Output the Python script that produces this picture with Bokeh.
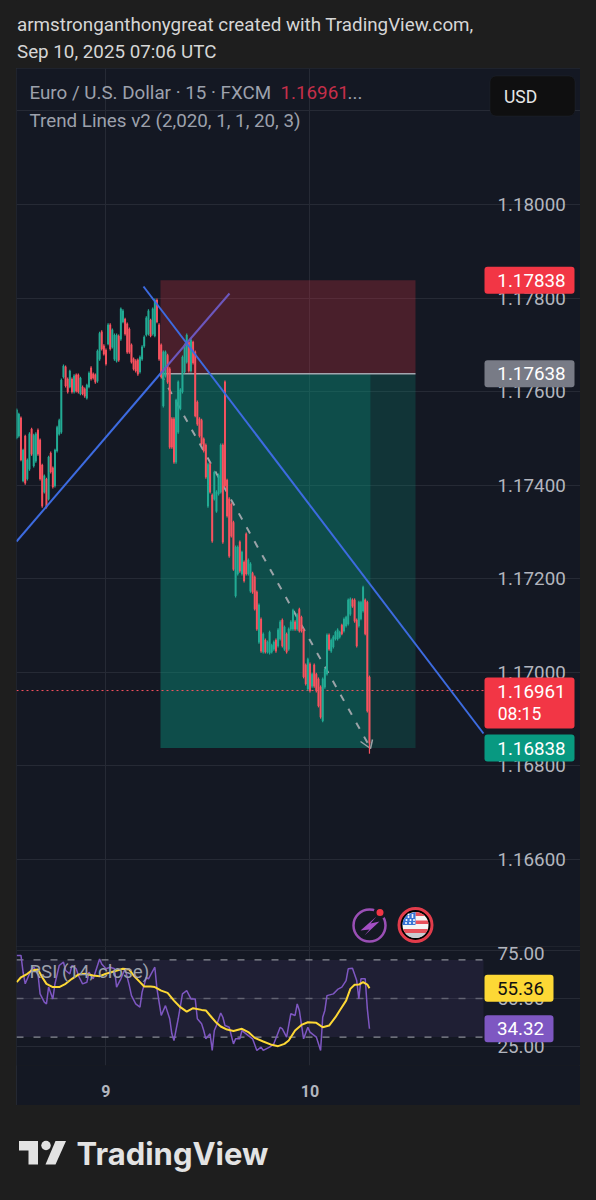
import numpy as np
from bokeh.plotting import figure
from bokeh.layouts import column
from bokeh.embed import file_html
from bokeh.resources import INLINE
from bokeh.models import (Range1d, FixedTicker, NumeralTickFormatter, Label, BoxAnnotation)

# ---- data ----
highs = [1.17564,1.17555,1.17547,1.17478,1.17508,1.17457,1.17513,1.17523,1.17510,1.17513,1.17521,1.17500,1.17446,1.17423,1.17416,1.17463,1.17472,1.17440,1.17478,1.17527,1.17542,1.17628,1.17658,1.17656,1.17630,1.17647,1.17630,1.17637,1.17639,1.17639,1.17632,1.17613,1.17609,1.17617,1.17643,1.17654,1.17641,1.17639,1.17690,1.17728,1.17731,1.17701,1.17692,1.17746,1.17746,1.17735,1.17724,1.17724,1.17722,1.17780,1.17776,1.17758,1.17748,1.17737,1.17703,1.17673,1.17669,1.17671,1.17677,1.17699,1.17720,1.17761,1.17776,1.17756,1.17780,1.17799,1.17799,1.17746,1.17703,1.17688,1.17688,1.17681,1.17652,1.17545,1.17545,1.17585,1.17624,1.17607,1.17677,1.17703,1.17724,1.17709,1.17714,1.17709,1.17688,1.17581,1.17545,1.17542,1.17502,1.17489,1.17448,1.17448,1.17382,1.17431,1.17389,1.17425,1.17489,1.17489,1.17624,1.17414,1.17374,1.17363,1.17324,1.17271,1.17271,1.17282,1.17260,1.17239,1.17299,1.17243,1.17235,1.17215,1.17207,1.17175,1.17147,1.17117,1.17085,1.17072,1.17068,1.17089,1.17061,1.17068,1.17072,1.17094,1.17111,1.17115,1.17100,1.17085,1.17096,1.17111,1.17136,1.17111,1.17126,1.17138,1.17121,1.17094,1.17019,1.17031,1.17021,1.16999,1.17019,1.16999,1.16989,1.16972,1.16989,1.17010,1.17083,1.17083,1.17072,1.17079,1.17089,1.17094,1.17089,1.17104,1.17117,1.17121,1.17158,1.17160,1.17158,1.17158,1.17115,1.17153,1.17153,1.17185,1.17158,1.17153,1.16993]
lows = [1.17498,1.17502,1.17451,1.17406,1.17401,1.17410,1.17431,1.17463,1.17438,1.17448,1.17463,1.17410,1.17352,1.17382,1.17350,1.17367,1.17425,1.17393,1.17395,1.17470,1.17506,1.17510,1.17628,1.17609,1.17596,1.17607,1.17596,1.17596,1.17598,1.17596,1.17592,1.17592,1.17587,1.17583,1.17607,1.17624,1.17626,1.17617,1.17619,1.17666,1.17688,1.17677,1.17656,1.17699,1.17688,1.17692,1.17666,1.17662,1.17664,1.17709,1.17746,1.17720,1.17681,1.17681,1.17660,1.17645,1.17641,1.17634,1.17639,1.17666,1.17694,1.17718,1.17720,1.17716,1.17720,1.17716,1.17746,1.17666,1.17628,1.17566,1.17630,1.17617,1.17478,1.17478,1.17446,1.17446,1.17510,1.17560,1.17596,1.17639,1.17660,1.17641,1.17641,1.17658,1.17545,1.17527,1.17502,1.17485,1.17470,1.17414,1.17352,1.17382,1.17277,1.17367,1.17341,1.17378,1.17382,1.17275,1.17395,1.17331,1.17245,1.17288,1.17217,1.17160,1.17207,1.17213,1.17207,1.17192,1.17207,1.17207,1.17170,1.17168,1.17132,1.17089,1.17061,1.17042,1.17040,1.17040,1.17040,1.17038,1.17040,1.17046,1.17042,1.17053,1.17068,1.17053,1.17046,1.17040,1.17046,1.17089,1.17089,1.17089,1.17089,1.17085,1.17085,1.16987,1.16972,1.16961,1.16957,1.16967,1.16967,1.16957,1.16925,1.16901,1.16893,1.16965,1.16993,1.17046,1.17042,1.17051,1.17068,1.17068,1.17072,1.17079,1.17085,1.17096,1.17100,1.17121,1.17138,1.17106,1.17053,1.17096,1.17111,1.17128,1.17079,1.16914,1.16826]
opens = [1.17501,1.17505,1.17544,1.17409,1.17505,1.17413,1.17434,1.17520,1.17441,1.17451,1.17518,1.17497,1.17443,1.17385,1.17413,1.17370,1.17469,1.17437,1.17398,1.17473,1.17509,1.17513,1.17631,1.17653,1.17627,1.17610,1.17627,1.17599,1.17636,1.17636,1.17595,1.17610,1.17606,1.17586,1.17610,1.17651,1.17638,1.17636,1.17622,1.17669,1.17728,1.17698,1.17689,1.17702,1.17743,1.17695,1.17669,1.17665,1.17719,1.17712,1.17749,1.17755,1.17745,1.17734,1.17700,1.17670,1.17666,1.17668,1.17642,1.17669,1.17697,1.17721,1.17723,1.17753,1.17723,1.17719,1.17796,1.17743,1.17700,1.17569,1.17633,1.17678,1.17649,1.17542,1.17542,1.17449,1.17513,1.17563,1.17599,1.17642,1.17663,1.17706,1.17644,1.17706,1.17685,1.17578,1.17542,1.17539,1.17499,1.17486,1.17355,1.17445,1.17379,1.17370,1.17344,1.17381,1.17385,1.17486,1.17621,1.17411,1.17371,1.17360,1.17321,1.17163,1.17210,1.17279,1.17210,1.17236,1.17296,1.17210,1.17173,1.17212,1.17204,1.17172,1.17064,1.17114,1.17043,1.17069,1.17043,1.17041,1.17043,1.17049,1.17069,1.17056,1.17071,1.17112,1.17049,1.17082,1.17049,1.17092,1.17092,1.17108,1.17092,1.17135,1.17118,1.17091,1.17016,1.16964,1.17018,1.16970,1.17016,1.16996,1.16986,1.16969,1.16896,1.16968,1.16996,1.17080,1.17045,1.17054,1.17071,1.17071,1.17075,1.17101,1.17088,1.17099,1.17103,1.17124,1.17155,1.17155,1.17112,1.17099,1.17114,1.17131,1.17155,1.17150,1.16990]
closes = [1.17561,1.17552,1.17454,1.17475,1.17404,1.17454,1.17510,1.17466,1.17507,1.17510,1.17466,1.17413,1.17355,1.17420,1.17353,1.17460,1.17428,1.17396,1.17475,1.17524,1.17539,1.17625,1.17655,1.17612,1.17599,1.17644,1.17599,1.17634,1.17601,1.17599,1.17629,1.17595,1.17590,1.17614,1.17640,1.17627,1.17629,1.17620,1.17687,1.17725,1.17691,1.17680,1.17659,1.17743,1.17691,1.17732,1.17721,1.17721,1.17667,1.17777,1.17773,1.17723,1.17684,1.17684,1.17663,1.17648,1.17644,1.17637,1.17674,1.17696,1.17717,1.17758,1.17773,1.17719,1.17777,1.17796,1.17749,1.17669,1.17631,1.17685,1.17685,1.17620,1.17481,1.17481,1.17449,1.17582,1.17621,1.17604,1.17674,1.17700,1.17721,1.17644,1.17711,1.17661,1.17548,1.17530,1.17505,1.17488,1.17473,1.17417,1.17445,1.17385,1.17280,1.17428,1.17386,1.17422,1.17486,1.17278,1.17398,1.17334,1.17248,1.17291,1.17220,1.17268,1.17268,1.17216,1.17257,1.17195,1.17210,1.17240,1.17232,1.17171,1.17135,1.17092,1.17144,1.17045,1.17082,1.17043,1.17065,1.17086,1.17058,1.17065,1.17045,1.17091,1.17108,1.17056,1.17097,1.17043,1.17093,1.17108,1.17133,1.17092,1.17123,1.17088,1.17088,1.16990,1.16975,1.17028,1.16960,1.16996,1.16970,1.16960,1.16928,1.16904,1.16986,1.17007,1.17080,1.17049,1.17069,1.17076,1.17086,1.17091,1.17086,1.17082,1.17114,1.17118,1.17155,1.17157,1.17141,1.17109,1.17056,1.17150,1.17150,1.17182,1.17082,1.16917,1.16848]

rsi_bar = [0,2,3,4,5,7,8,10,11,13,14,15,17,18,20,22,23,25,26,28,29,31,33,34,36,37,39,40,42,44,46,47,49,51,53,54,56,58,59,61,62,65,66,68,70,72,73,74,76,78,80,82,84,85,87,88,89,91,92,93,94,96,97,98,100,102,103,105,106,109,111,113,115,116,119,121,124,125,127,129,131,132,133,135,137,138,141,143,144,145,146,149,151,153,155,156,158,160,161,162,164,165,166]
rsi_val = [72.3,72.3,63.6,57.6,60.2,65.4,66.2,62.8,52.4,48.1,47.2,55.9,49.8,57.6,67.1,68.8,64.5,62.8,67.1,65.4,61.9,57.6,58.4,63.6,60.2,63.6,70.5,67.9,65.4,66.2,65.4,55.9,60.2,65.4,56.7,51.5,47.2,45.5,53.3,61.0,60.2,66.2,55.0,41.2,46.3,39.5,31.7,28.2,39.5,52.4,54.1,49.8,49.8,39.5,36.9,33.4,29.1,31.7,23.1,33.4,36.0,42.5,40.3,36.0,35.1,26.5,29.1,29.1,33.4,30.8,29.1,23.1,24.8,23.1,24.8,26.5,35.1,34.3,30.0,42.1,41.2,47.2,43.8,29.1,35.1,32.6,30.0,23.1,40.3,43.8,51.5,52.4,54.7,55.9,59.3,65.4,65.7,59.3,49.8,60.2,60.2,44.6,34.32]
ma_bar = [0,2,5,7,10,12,14,17,20,23,26,29,32,36,39,42,46,50,53,55,58,60,63,65,68,71,74,77,80,83,87,89,91,94,96,99,102,106,109,112,116,120,123,126,128,131,134,137,141,144,147,150,152,155,157,159,161,163,165,166]
ma_val = [58.5,61.0,62.8,64.5,65.0,61.0,57.6,55.9,55.9,57.6,60.2,62.4,62.8,61.9,61.5,62.8,64.1,65.4,65.0,61.9,58.5,56.2,56.2,55.9,54.1,52.9,48.9,45.5,43.2,45.0,44.1,43.8,41.2,37.4,35.5,33.9,33.2,34.3,32.6,29.6,27.7,26.0,25.3,26.5,28.2,33.4,36.3,37.7,37.4,35.1,36.0,40.3,43.8,48.9,55.0,57.1,57.2,58.5,57.2,55.36]

price_ticks = [1.166,1.168,1.170,1.172,1.174,1.176,1.178,1.180]
price_grid = [1.166,1.168,1.170,1.172,1.174,1.176,1.178,1.180,1.182]
rsi_ticks = [25,50,75]
day_ticks = {42:"9",138:"10"}
last_price, stop_price, entry_price, target_price = 1.16961, 1.17838, 1.17638, 1.16838
last_rsi, last_ma = 34.32, 55.36

PAGE="#1e1e1e"; PANEL="#141823"; GRID="#262a35"; AX="#b2b5be"; LEG="#9da1ac"
UP="#22ab94"; DN="#f7525f"; BLUE="#3d6be0"; FONT="Roboto"; FS=18.8

# mapping helpers for annotations (page pixel -> axis value)
K=46780.0
mx=lambda px:-0.1+(np.asarray(px,dtype=float)-16)/2.125
my=lambda py:1.18-(np.asarray(py,dtype=float)-204)/K
ry=lambda py:50+(998-py)/1.93
fmx=lambda v:float(mx(v))
fmy=lambda v:float(my(v))

def txt(fig,x,y,s,size,color,bold=False,align="left",font=FONT):
    fig.add_layout(Label(x=x,y=y,text=s,text_font=font,text_font_size=f"{size}px",text_color=color,
        text_baseline="middle",text_align=align,text_font_style="bold" if bold else "normal"))

COMMON=dict(output_backend="svg",toolbar_location=None,min_border_left=0,min_border_top=0,min_border_bottom=0,
            min_border_right=0,outline_line_color=None,margin=(0,16,0,16),width=564)
AXIS_LEFT=-83   # tick labels start at page x 497, inside the pane

# ---- header ----
head=figure(height=68,x_range=Range1d(16,580),y_range=Range1d(68,0),x_axis_location=None,y_axis_location=None,
            background_fill_color=PAGE,border_fill_color=PAGE,**COMMON)
head.grid.visible=False
txt(head,16.5,24,"armstronganthonygreat created with TradingView.com,",FS,"#d6d6d6")
txt(head,16.5,51,"Sep 10, 2025 07:06 UTC",FS,"#d6d6d6")

# ---- main pane ----
X0,X1=-0.1,fmx(580)
XE=fmx(483)
p=figure(height=878,x_range=Range1d(X0,X1),y_range=Range1d(fmy(946),fmy(68)),
         y_axis_location="right",x_axis_location=None,
         background_fill_color=PANEL,border_fill_color=PANEL,
         styles={"outline":"1px solid #2a2e39","outline-offset":"-1px"},**COMMON)
p.yaxis.ticker=FixedTicker(ticks=price_ticks)
p.yaxis.formatter=NumeralTickFormatter(format="0.00000")
p.yaxis.major_label_text_font=FONT; p.yaxis.major_label_text_font_size=f"{FS}px"; p.yaxis.major_label_text_color=AX
p.yaxis.major_tick_line_color=None; p.yaxis.minor_tick_line_color=None; p.yaxis.axis_line_color=None
p.yaxis.major_tick_out=0; p.yaxis.major_tick_in=0; p.yaxis.minor_tick_out=0
p.yaxis.major_label_standoff=AXIS_LEFT
p.ygrid.ticker=FixedTicker(ticks=price_grid)
p.ygrid.grid_line_color=GRID; p.ygrid.bounds=(X0,XE)
p.xgrid.ticker=FixedTicker(ticks=list(day_ticks)); p.xgrid.grid_line_color=GRID

n=len(closes); idx=list(range(n))
entry_x=fmx(160); last_x=fmx(370); end_x=fmx(415)
p.quad(left=[entry_x],right=[end_x],top=[stop_price],bottom=[entry_price],fill_color="#f23645",fill_alpha=0.24,line_color=None)
p.quad(left=[entry_x],right=[last_x],top=[entry_price],bottom=[target_price],fill_color="#089981",fill_alpha=0.42,line_color=None)
p.quad(left=[last_x],right=[end_x],top=[entry_price],bottom=[target_price],fill_color="#089981",fill_alpha=0.22,line_color=None)
p.line([entry_x,end_x],[entry_price,entry_price],line_color="#a3a6af",line_width=1.5)
p.line([entry_x,last_x],[entry_price,target_price],line_color="#9ba3a8",line_width=2,line_dash="7 9")
p.line(mx([360,370,372]),my([741,748,739]),line_color="#9ba3a8",line_width=1.5)
p.line([X0,XE],[last_price,last_price],line_color="#f7525f",line_dash="2 3",line_width=1)

cols=[UP if c>=o else DN for o,c in zip(opens,closes)]
p.segment(idx,lows,idx,highs,line_color=cols,line_width=1.2)
p.vbar(x=idx,width=0.92,top=[max(o,c) for o,c in zip(opens,closes)],bottom=[min(o,c) for o,c in zip(opens,closes)],fill_color=cols,line_color=None)

# trend lines
p.line(mx([16,160]),my([541,373]),line_color=BLUE,line_width=2)
p.line(mx([160,229]),my([373,293]),line_color="#6c57bd",line_width=2)
p.line(mx([143,483]),my([286,733]),line_color=BLUE,line_width=2)

# event icons
p.scatter([fmx(369)],[fmy(925)],size=32,fill_color=None,line_color="#9a4fb5",line_width=2.5)
bx=[376,360,369,364,379,370]; by=[916,930,929,935,921,923]
p.patch(mx(bx),my(by),fill_color="#a44fc4",line_color=None)
p.scatter([fmx(379.5)],[fmy(912)],size=10,fill_color="#f23645",line_color=PANEL,line_width=3)
fx,fy=415.0,924.5
p.scatter([fmx(fx)],[fmy(fy)],size=33,fill_color="#000000",line_color="#e23c4b",line_width=3)
p.scatter([fmx(fx)],[fmy(fy)],size=26,fill_color="#f4f4f4",line_color=None)
def chord(y1,y2,xmin=-99,r=13.0):
    t=np.linspace(y1,y2,9); w=np.sqrt(np.maximum(r*r-t*t,0))
    rx=w; lx=np.maximum(-w,xmin)
    return mx(np.r_[fx+rx,(fx+lx)[::-1]]),my(np.r_[fy+t,(fy+t)[::-1]])
for y1,y2,xm in [(-13,-9,0),(-4.5,-1,0),(4,8,-99)]:
    a,b=chord(y1,y2,xm); p.patch(a,b,fill_color="#e8505b",line_color=None)
a,b=chord(8,13); p.patch(a,b,fill_color="#c9ccd2",line_color=None)
a,b=chord(-13,0,-99); keep=mx(fx)
a=np.minimum(a,keep); p.patch(a,b,fill_color="#3a76d6",line_color=None)
sx=[fx-9,fx-5,fx-1.5,fx-7,fx-3,fx-9.5,fx-5.5,fx-1.5,fx-3,fx-7]; sy=[fy-5,fy-5,fy-5,fy-8,fy-8,fy-2,fy-2,fy-2,fy-10,fy-10.5]
p.scatter(mx(sx),my(sy),size=2,fill_color="#ffffff",line_color=None)

# legend
txt(p,fmx(29),fmy(92),"Euro / U.S. Dollar · 15 · FXCM",FS,LEG)
txt(p,fmx(280),fmy(92),"1.16961",FS,"#c52f4a")
txt(p,fmx(347),fmy(92),"...",FS,LEG)
txt(p,fmx(29),fmy(120),"Trend Lines v2 (2,020, 1, 1, 20, 3)",FS,LEG)

def tag(fig,yf,x1,x2,y1,y2,color,line=None,radius=3):
    fig.add_layout(BoxAnnotation(left=fmx(x1),right=fmx(x2),top=yf(y1),bottom=yf(y2),
                                 fill_color=color,fill_alpha=1,line_color=line,line_width=1,border_radius=radius))
def tagtxt(fig,x,y,s,size,color):
    fig.add_layout(Label(x=fmx(x),y=y,text=s,text_font=FONT,text_font_size=f"{size}px",text_color=color,
                         text_baseline="middle",text_align="center"))

# USD button
tag(p,fmy,489.5,574.5,75.5,115.5,"#0f0f10",line="#2c3039",radius=6)
tagtxt(p,520,fmy(96),"USD",17.5,"#e6e6e6")

# price tags
for price,col in [(stop_price,"#f23645"),(entry_price,"#787b86"),(target_price,"#089981")]:
    py=204+(1.18-price)*K
    tag(p,fmy,484,574,py-13.5,py+13.5,col)
    tagtxt(p,531,price,f"{price:.5f}",FS,"#ffffff")
tag(p,fmy,484,574,677,728,"#f23645")
tagtxt(p,531,fmy(691),f"{last_price:.5f}",FS,"#ffffff")
tagtxt(p,519,fmy(713),"08:15",17.5,"#ffffff")

# ---- RSI pane ----
rc=dict(COMMON); rc["min_border_bottom"]=40
r=figure(height=159,x_range=Range1d(X0,X1),y_range=Range1d(ry(1065),ry(946)),y_axis_location="right",
         background_fill_color=PANEL,border_fill_color=PANEL,
         styles={"outline":"1px solid #2a2e39","outline-offset":"-1px"},**rc)
r.yaxis.ticker=FixedTicker(ticks=rsi_ticks)
r.yaxis.formatter=NumeralTickFormatter(format="0.00")
r.yaxis.major_label_text_font=FONT; r.yaxis.major_label_text_font_size=f"{FS}px"; r.yaxis.major_label_text_color=AX
r.yaxis.major_tick_line_color=None; r.yaxis.minor_tick_line_color=None; r.yaxis.axis_line_color=None
r.yaxis.major_tick_out=0; r.yaxis.major_tick_in=0; r.yaxis.minor_tick_out=0
r.yaxis.major_label_standoff=AXIS_LEFT
r.xaxis.ticker=FixedTicker(ticks=list(day_ticks))
r.xaxis.major_label_overrides=day_ticks
r.xaxis.major_label_text_font=FONT; r.xaxis.major_label_text_font_size="16px"; r.xaxis.major_label_text_color=AX
r.xaxis.major_label_text_font_style="bold"
r.xaxis.major_tick_line_color=None; r.xaxis.minor_tick_line_color=None; r.xaxis.axis_line_color=None
r.xaxis.major_label_standoff=13
r.ygrid.grid_line_color=GRID; r.ygrid.bounds=(X0,XE)
r.xgrid.ticker=FixedTicker(ticks=list(day_ticks)); r.xgrid.grid_line_color=GRID
r.add_layout(BoxAnnotation(left=X0,right=XE,bottom=30,top=70,fill_color="#7e57c2",fill_alpha=0.11,line_color=None,level="underlay"))
for lv,a in [(70,0.9),(50,0.5),(30,0.9)]:
    r.line([X0,XE],[lv,lv],line_color="#9598a1",line_alpha=a,line_dash="7 10",line_width=1.3)
r.line(rsi_bar,rsi_val,line_color="#7e57c2",line_width=1.5)
r.line(ma_bar,ma_val,line_color="#fdd835",line_width=2)
txt(r,fmx(29),ry(971),"RSI (14, close)",FS,LEG)
for v,col,tc in [(last_ma,"#fdd835","#111111"),(last_rsi,"#7e57c2","#ffffff")]:
    py=998-(v-50)*1.93
    tag(r,ry,484,553,py-13.5,py+13.5,col)
    tagtxt(r,520,v,f"{v:.2f}",FS,tc)

# ---- footer ----
f=figure(height=95,x_range=Range1d(16,580),y_range=Range1d(1200,1105),x_axis_location=None,y_axis_location=None,
         background_fill_color=PAGE,border_fill_color=PAGE,**COMMON)
f.grid.visible=False
fo=dict(fill_color="#e3e3e3",line_color=None)
f.patch([18.5,37.5,37.5,28,28,18.5],[1140.5,1140.5,1164,1164,1150,1150],**fo)
f.patch([55,65.5,55,45],[1140.5,1140.5,1164,1164],**fo)
f.scatter([45.5],[1145],size=9.5,**fo)
txt(f,76,1153,"TradingView",31,"#e3e3e3",bold=True,font="Inter")

page=column(head,p,r,f,spacing=0,styles={"background-color":PAGE})
open("out.html","w").write(file_html(page,INLINE,title="EURUSD"))
